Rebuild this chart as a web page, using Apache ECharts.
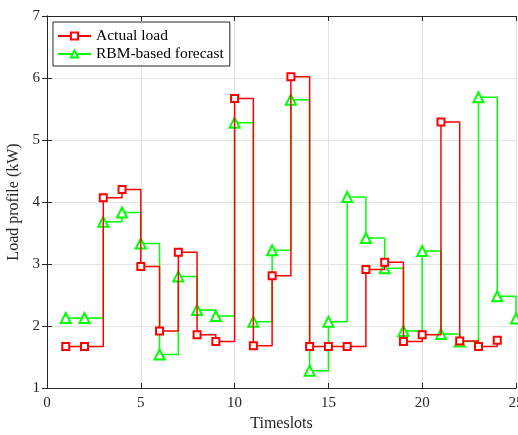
<!DOCTYPE html>
<html><head><meta charset="utf-8">
<script src="https://cdn.jsdelivr.net/npm/echarts@6/dist/echarts.min.js"></script>
<style>html,body{margin:0;padding:0;background:#fff}#c{width:518px;height:435px}</style>
</head><body><div id="c"></div>
<script>
const actualX = [1,2,3,4,5,6,7,8,9,10,11,12,13,14,15,16,17,18,19,20,21,22,23,24];
const actualLoad = [1.67,1.67,4.07,4.20,2.96,1.92,3.19,1.86,1.75,5.67,1.68,2.81,6.02,1.67,1.67,1.67,2.91,3.03,1.75,1.86,5.29,1.76,1.67,1.77];
const forecastX = [1,2,3,4,5,6,7,8,9,10,11,12,13,14,15,16,17,18,19,20,21,22,23,24,25];
const forecastLoad = [2.13,2.13,3.68,3.83,3.33,1.54,2.80,2.26,2.16,5.28,2.07,3.22,5.65,1.28,2.07,4.08,3.42,2.93,1.92,3.21,1.87,1.75,5.69,2.48,2.12];
const xTicks = [0,5,10,15,20,25];
const yTicks = [1,2,3,4,5,6,7];

const font = 'Liberation Serif';
const chart = echarts.init(document.getElementById('c'), null, {renderer:'canvas'});
const pair = (xs, ys) => xs.map((x,i)=>[x, ys[i]]);
const axisCol = '#262626';
chart.setOption({
  animation:false,
  backgroundColor:'#fff',
  grid:{left:47, right:2, top:16, bottom:47, containLabel:false, outerBoundsMode:'none'},
  legend:{
    left:53, top:22, orient:'vertical', itemWidth:33, itemHeight:9, itemGap:2,
    padding:[6,6,4,4],
    borderColor:'#262626', borderWidth:1, backgroundColor:'#fff',
    textStyle:{fontFamily:font, fontSize:15.5, color:'#000'},
    data:['Actual load','RBM-based forecast']
  },
  xAxis:[{
    type:'value', min:xTicks[0], max:xTicks[xTicks.length-1], interval:5,
    name:'Timeslots', nameLocation:'middle', nameGap:28,
    nameTextStyle:{fontFamily:font, fontSize:16, color:'#262626'},
    axisLine:{show:true, lineStyle:{color:axisCol, width:1}},
    axisTick:{show:true, inside:true, length:5, lineStyle:{color:axisCol}},
    axisLabel:{fontFamily:font, fontSize:15, color:'#262626', margin:8, showMaxLabel:true},
    splitLine:{show:true, lineStyle:{color:'#e3e3e3', width:1}}
  },{
    type:'value', position:'top', min:0, max:25, interval:5,
    axisLine:{show:true, lineStyle:{color:axisCol, width:1}},
    axisTick:{show:true, inside:true, length:5, lineStyle:{color:axisCol}},
    axisLabel:{show:false}, splitLine:{show:false}
  }],
  yAxis:[{
    type:'value', min:yTicks[0], max:yTicks[yTicks.length-1], interval:1,
    name:'Load profile (kW)', nameLocation:'middle', nameGap:18,
    nameTextStyle:{fontFamily:font, fontSize:16, color:'#262626'},
    axisLine:{show:true, lineStyle:{color:axisCol, width:1}},
    axisTick:{show:true, inside:true, length:5, lineStyle:{color:axisCol}},
    axisLabel:{fontFamily:font, fontSize:15, color:'#262626', margin:7},
    splitLine:{show:true, lineStyle:{color:'#e3e3e3', width:1}}
  },{
    type:'value', position:'right', min:1, max:7, interval:1,
    axisLine:{show:true, lineStyle:{color:axisCol, width:1}},
    axisTick:{show:true, inside:true, length:5, lineStyle:{color:axisCol}},
    axisLabel:{show:false}, splitLine:{show:false}
  }],
  series:[{
    name:'Actual load', type:'line', step:'end', data:pair(actualX, actualLoad),
    symbol:'emptyRect', symbolSize:7, showAllSymbol:true,
    lineStyle:{color:'#ff0000', width:1.5},
    itemStyle:{color:'#ff0000', borderWidth:1.5},
    z:3
  },{
    name:'RBM-based forecast', type:'line', step:'end', data:pair(forecastX, forecastLoad),
    symbol:'emptyTriangle', symbolSize:10, showAllSymbol:true,
    lineStyle:{color:'#00ff00', width:1.5},
    itemStyle:{color:'#00ff00', borderWidth:1.5},
    z:2
  }]
});
</script></body></html>
